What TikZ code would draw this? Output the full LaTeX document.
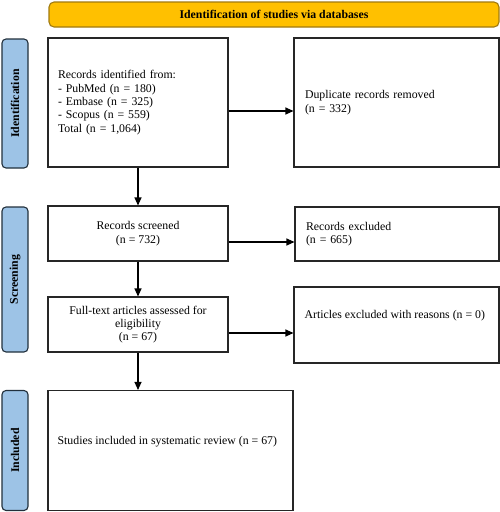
\documentclass[tikz,border=0pt]{standalone}
\usepackage{fontspec}
\setmainfont{Liberation Serif}
\usetikzlibrary{arrows.meta}
\definecolor{headgold}{HTML}{FFC000}
\definecolor{headedge}{HTML}{A07A10}
\definecolor{phaseblue}{HTML}{9DC3E6}
\definecolor{phaseedge}{HTML}{22303C}
\begin{document}
\begin{tikzpicture}[x=1pt,y=-1pt,
    every node/.style={font=\fontsize{11.8}{13.4}\selectfont},
    box/.style={draw=black!85,line width=1.1pt,rectangle,inner sep=0pt},
    phase/.style={draw=phaseedge,fill=phaseblue,line width=1.1pt,rectangle,rounded corners=4pt,rotate=90,minimum height=26pt,inner sep=0pt,font=\fontsize{11.8}{13.4}\selectfont\bfseries},
    flow/.style={line width=1.1pt,-{Triangle[length=8pt,width=7pt]}}]
    \useasboundingbox (0,0) rectangle (500,512);
    %% Header
    \node[draw=headedge,fill=headgold,line width=1.1pt,rounded corners=5pt,minimum width=450pt,minimum height=25pt,font=\fontsize{11.8}{13.4}\selectfont\bfseries] (head) at (274,14.5) {Identification of studies via databases};
    %% Phases
    \node[phase,minimum width=129pt] (idn) at (15,103.5) {Identification};
    \node[phase,minimum width=145pt] (scn) at (15,279.5) {Screening};
    \node[phase,minimum width=120pt] (inl) at (15,450.5) {Included};
    %% Left column
    \node[box,minimum width=180pt,minimum height=129pt,text width=160pt,align=left] (rec) at (138,102.5) {Records identified from:\\- PubMed (n = 180)\\- Embase (n = 325)\\- Scopus (n = 559)\\Total (n = 1,064)};
    \node[box,minimum width=180pt,minimum height=55pt,align=center] (scr) at (138,233.5) {Records screened\\(n = 732)};
    \node[box,minimum width=180pt,minimum height=55pt,align=center] (ful) at (138,324.5) {Full-text articles assessed for\\eligibility\\(n = 67)};
    \node[box,minimum width=245pt,minimum height=120pt] (inc) at (170.5,450.5) {};
    \node[anchor=west,inner sep=0pt] (inctxt) at ([shift={(10,-8.5)}]inc.west) {Studies included in systematic review (n = 67)};
    %% Right column
    \node[box,minimum width=205pt,minimum height=129pt,text width=183pt,align=left] (dup) at (396.5,102.5) {Duplicate records removed\\(n = 332)};
    \node[box,minimum width=204pt,minimum height=54pt,text width=182pt,align=left] (exc) at (397,234) {Records excluded\\(n = 665)};
    \node[box,minimum width=205pt,minimum height=76pt] (aex) at (396.5,325) {};
    \node[anchor=west,inner sep=0pt] (aextxt) at ([shift={(11,-9)}]aex.west) {Articles excluded with reasons (n = 0)};
    %% Arrows
    \draw[flow] (rec.south) -- (scr.north);
    \draw[flow] (scr.south) -- (ful.north);
    \draw[flow] (ful.south) -- (ful.south |- inc.north);
    \draw[flow] ([yshift=-8.5pt]rec.east) -- ([yshift=-8.5pt]rec.east -| dup.west);
    \draw[flow] ([yshift=-8.5pt]scr.east) -- ([yshift=-8.5pt]scr.east -| exc.west);
    \draw[flow] ([yshift=-8.5pt]ful.east) -- ([yshift=-8.5pt]ful.east -| aex.west);
\end{tikzpicture}
\end{document}
